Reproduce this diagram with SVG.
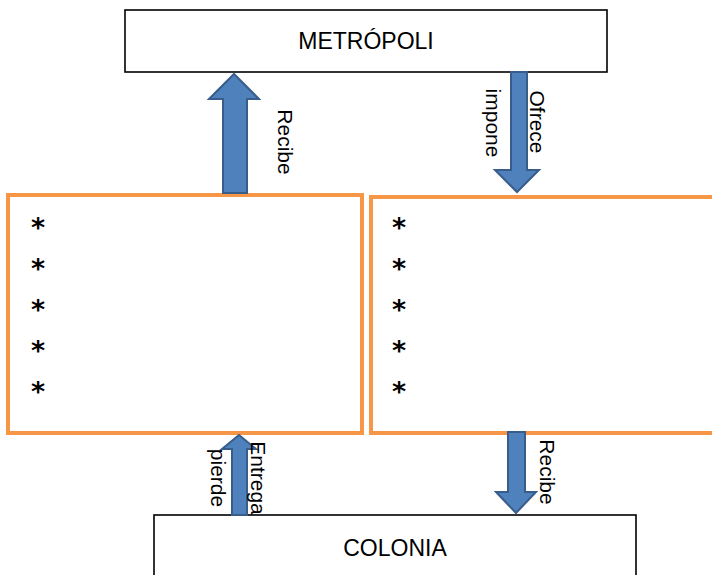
<svg xmlns="http://www.w3.org/2000/svg" width="712" height="575" viewBox="0 0 712 575">
<style>
.box{fill:#fff;stroke:#000;stroke-width:1.6}
.obox{fill:#fff;stroke:#F79646;stroke-width:4}
.arr{fill:#4F81BD;stroke:#385D8A;stroke-width:2}
.t{font-family:"Liberation Sans",Arial,sans-serif;fill:#000}
.title{font-size:23px}
.lbl{font-size:21px}
.ast{font-family:"DejaVu Sans",sans-serif;font-size:27px;font-weight:bold;fill:#000}
</style>
<rect width="712" height="575" fill="#fff"/>
<g id="metropoli">
<rect class="box" x="125" y="10" width="482" height="62"/>
<text class="t title" x="366" y="49" text-anchor="middle">METRÓPOLI</text>
</g>
<g id="colonia">
<rect class="box" x="154" y="515" width="482" height="70"/>
<text class="t title" x="395" y="556" text-anchor="middle">COLONIA</text>
</g>
<g id="left-box">
<rect class="obox" x="8" y="195" width="354" height="238"/>
<text class="ast" x="38" y="237" text-anchor="middle">*</text>
<text class="ast" x="38" y="278" text-anchor="middle">*</text>
<text class="ast" x="38" y="319" text-anchor="middle">*</text>
<text class="ast" x="38" y="360" text-anchor="middle">*</text>
<text class="ast" x="38" y="401" text-anchor="middle">*</text>
</g>
<g id="right-box">
<rect class="obox" x="371" y="197" width="350" height="236"/>
<text class="ast" x="399" y="237" text-anchor="middle">*</text>
<text class="ast" x="399" y="278" text-anchor="middle">*</text>
<text class="ast" x="399" y="319" text-anchor="middle">*</text>
<text class="ast" x="399" y="360" text-anchor="middle">*</text>
<text class="ast" x="399" y="401" text-anchor="middle">*</text>
</g>
<g id="connectors">
<polygon class="arr" points="223,193 223,99 209,99 234,74 259,99 247,99 247,193"/>
<polygon class="arr" points="511,72 527,72 527,170 539,170 517,192 495,170 511,170"/>
<polygon class="arr" points="232,515 232,449 222,449 239,435 256,449 247,449 247,515"/>
<polygon class="arr" points="508,432 525,432 525,492 536,492 516,513 496,492 508,492"/>
<text class="t lbl" transform="translate(278,142) rotate(90)" text-anchor="middle">Recibe</text>
<text class="t lbl" transform="translate(530,122) rotate(90)" text-anchor="middle">Ofrece</text>
<text class="t lbl" transform="translate(486,123) rotate(90)" text-anchor="middle">impone</text>
<text class="t lbl" transform="translate(251,478) rotate(90)" text-anchor="middle">Entrega</text>
<text class="t lbl" transform="translate(211,478) rotate(90)" text-anchor="middle">pierde</text>
<text class="t lbl" transform="translate(540,472) rotate(90)" text-anchor="middle">Recibe</text>
</g>
</svg>
